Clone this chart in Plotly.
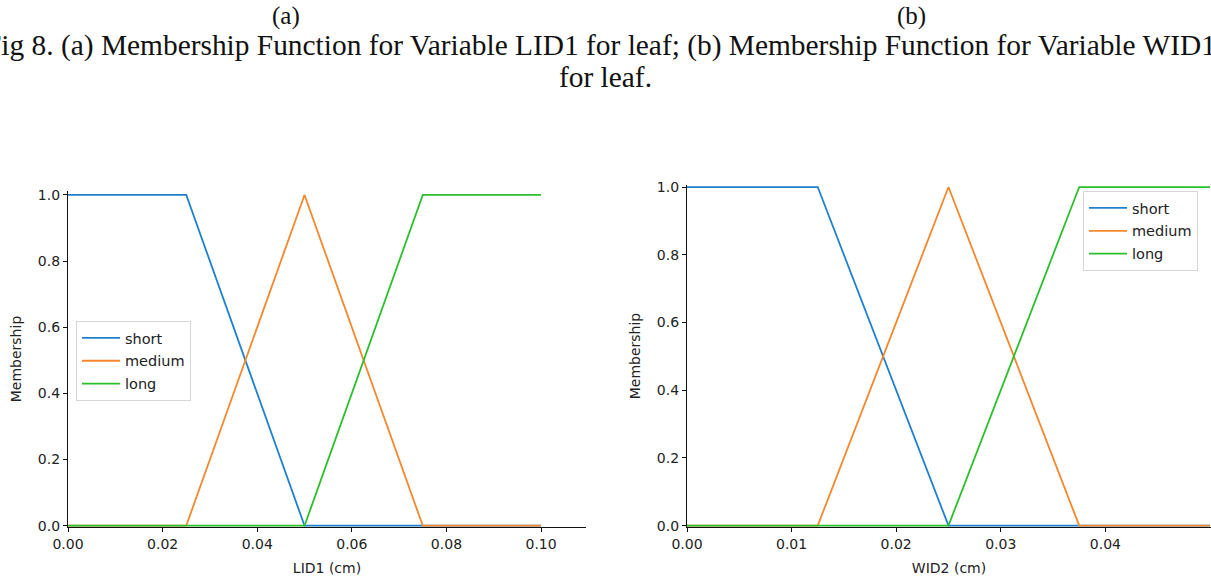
import plotly.graph_objects as go

# ---- data ----
lid1_x = [0.0, 0.025, 0.05, 0.075, 0.10]
lid1_short = [1, 1, 0, 0, 0]
lid1_medium = [0, 0, 1, 0, 0]
lid1_long = [0, 0, 0, 1, 1]

wid2_x = [0.0, 0.0125, 0.025, 0.0375, 0.05]
wid2_short = [1, 1, 0, 0, 0]
wid2_medium = [0, 0, 1, 0, 0]
wid2_long = [0, 0, 0, 1, 1]

names = ["short", "medium", "long"]
lid1_x_ticks = [0.0, 0.02, 0.04, 0.06, 0.08, 0.10]
wid2_x_ticks = [0.0, 0.01, 0.02, 0.03, 0.04]
y_ticks = [0.0, 0.2, 0.4, 0.6, 0.8, 1.0]

colors = ["#1f80d0", "#f5872d", "#2cbf2c"]

W, H = 1211, 581
def px(x):
    return x / W
def py(y):
    return (H - y) / H

fig = go.Figure()
for nm, ys, c in zip(names, [lid1_short, lid1_medium, lid1_long], colors):
    fig.add_trace(go.Scatter(x=lid1_x, y=ys, mode="lines", name=nm,
                             line=dict(color=c, width=1.8),
                             xaxis="x", yaxis="y", legend="legend",
                             legendgroup="a" + nm))
for nm, ys, c in zip(names, [wid2_short, wid2_medium, wid2_long], colors):
    fig.add_trace(go.Scatter(x=wid2_x, y=ys, mode="lines", name=nm,
                             line=dict(color=c, width=1.8),
                             xaxis="x2", yaxis="y2", legend="legend2",
                             legendgroup="b" + nm))

tickfont = dict(family="DejaVu Sans", size=14, color="#222")
titlefont = dict(family="DejaVu Sans", size=14, color="#222")
axcommon = dict(showgrid=False, zeroline=False, showline=True, linecolor="#111",
                linewidth=1.3, ticks="outside", ticklen=4, tickwidth=1,
                tickcolor="#111", tickfont=tickfont, automargin=False)
legfont = dict(family="DejaVu Sans", size=14.5, color="#222")

fig.update_layout(
    width=W, height=H,
    margin=dict(l=0, r=0, t=0, b=0),
    paper_bgcolor="white", plot_bgcolor="white",
    xaxis=dict(domain=[px(68), px(586)], range=[0, 0.1095], anchor="y",
               tickvals=lid1_x_ticks, tickformat=".2f",
               title=dict(text="LID1 (cm)", font=titlefont, standoff=12), **axcommon),
    yaxis=dict(domain=[py(527), py(191)], range=[-0.004, 1.012], anchor="x",
               tickvals=y_ticks, tickformat=".1f",
               title=dict(text="Membership", font=titlefont, standoff=12), **axcommon),
    xaxis2=dict(domain=[px(687), 1.0], range=[0, 0.0501], anchor="y2",
                tickvals=wid2_x_ticks, tickformat=".2f",
                title=dict(text="WID2 (cm)", font=titlefont, standoff=12), **axcommon),
    yaxis2=dict(domain=[py(527), py(185)], range=[-0.004, 1.006], anchor="x2",
                tickvals=y_ticks, tickformat=".1f",
                title=dict(text="Membership", font=titlefont, standoff=12), **axcommon),
    legend=dict(x=px(76), y=py(321), xanchor="left", yanchor="top",
                bgcolor="rgba(255,255,255,0.85)", bordercolor="#d6d6d6", borderwidth=1,
                font=legfont, tracegroupgap=1, itemwidth=38),
    legend2=dict(x=px(1083), y=py(191), xanchor="left", yanchor="top",
                 bgcolor="rgba(255,255,255,0.85)", bordercolor="#d6d6d6", borderwidth=1,
                 font=legfont, tracegroupgap=1, itemwidth=38),
    showlegend=True,
)

serif_lbl = dict(family="Liberation Serif", size=25, color="#111")
serif = dict(family="Liberation Serif", size=29.4, color="#111")
fig.add_annotation(text="(a)", xref="paper", yref="paper", x=px(286), y=py(16),
                   xanchor="center", yanchor="middle", showarrow=False, font=serif_lbl)
fig.add_annotation(text="(b)", xref="paper", yref="paper", x=px(911), y=py(16),
                   xanchor="center", yanchor="middle", showarrow=False, font=serif_lbl)
fig.add_annotation(text="Fig 8. (a) Membership Function for Variable LID1 for leaf; (b) Membership Function for Variable WID1",
                   xref="paper", yref="paper", x=px(600), y=py(45),
                   xanchor="center", yanchor="middle", showarrow=False, font=serif)
fig.add_annotation(text="for leaf.", xref="paper", yref="paper", x=px(605), y=py(77),
                   xanchor="center", yanchor="middle", showarrow=False, font=serif)

fig.write_html("out.html", config={"displayModeBar": False},
               post_script="document.body.style.margin='0px';document.body.style.overflow='hidden';")
